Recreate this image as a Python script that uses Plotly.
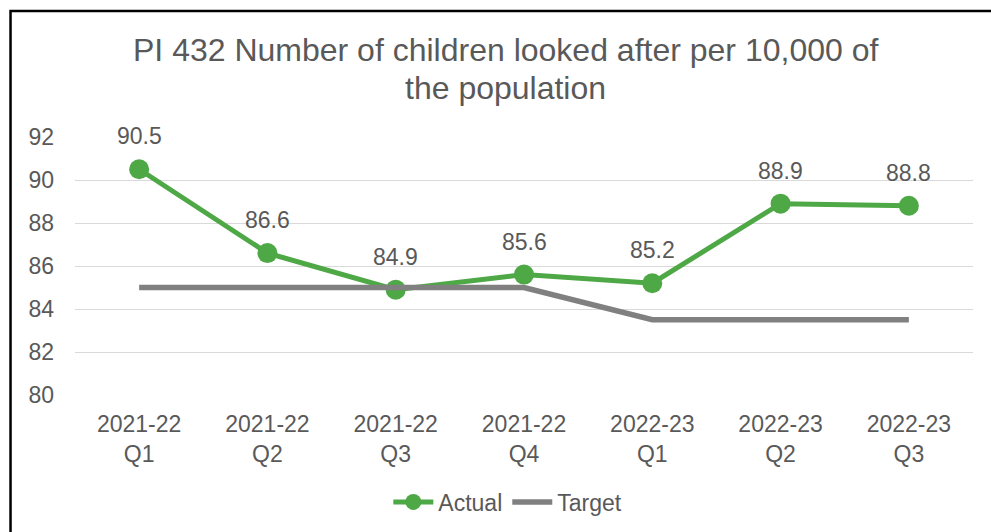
import plotly.graph_objects as go

categories = ["2021-22<br>Q1", "2021-22<br>Q2", "2021-22<br>Q3", "2021-22<br>Q4",
              "2022-23<br>Q1", "2022-23<br>Q2", "2022-23<br>Q3"]
actual = [90.5, 86.6, 84.9, 85.6, 85.2, 88.9, 88.8]
target = [85, 85, 85, 85, 83.5, 83.5, 83.5]
y_ticks = [80, 82, 84, 86, 88, 90, 92]
title_lines = ["PI 432 Number of children looked after per 10,000 of", "the population"]

GREEN = "#4EA846"
GREY = "#808080"
TEXT = "#595959"
FONT = "Liberation Sans, Arial, sans-serif"

fig = go.Figure()
fig.add_trace(go.Scatter(
    x=categories, y=actual, name="Actual", mode="lines+markers",
    line=dict(color=GREEN, width=5),
    marker=dict(color=GREEN, size=20),
    cliponaxis=False,
))
fig.add_trace(go.Scatter(
    x=categories, y=target, name="Target", mode="lines",
    line=dict(color=GREY, width=5.5),
    cliponaxis=False,
))

for c, v in zip(categories, actual):
    fig.add_annotation(x=c, y=v, text=f"{v:.1f}", showarrow=False,
                       yshift=33, yanchor="middle",
                       font=dict(size=23, color=TEXT, family=FONT))

for txt, ty in zip(title_lines, [1.337, 1.19]):
    fig.add_annotation(xref="paper", yref="paper", x=0.4794, y=ty, text=txt,
                       showarrow=False, xanchor="center", yanchor="middle",
                       font=dict(size=32, color=TEXT, family=FONT))

fig.add_shape(type="rect", xref="paper", yref="paper",
              x0=-0.0718, y0=-0.7, x1=1.2, y1=1.488,
              line=dict(color="black", width=2.5), fillcolor="rgba(0,0,0,0)")

fig.update_layout(
    width=991, height=532,
    margin=dict(l=75, r=18, t=137, b=137, autoexpand=False),
    paper_bgcolor="white", plot_bgcolor="white",
    font=dict(family=FONT, color=TEXT, size=23),
    showlegend=True,
    legend=dict(orientation="h", x=0.482, xanchor="center", y=-0.4147, yanchor="middle",
                font=dict(size=23, color=TEXT), itemwidth=40),
)
fig.update_xaxes(showgrid=False, showline=False, zeroline=False,
                 tickfont=dict(size=23, color=TEXT), ticklabelstandoff=13,
                 range=[-0.5, 6.5])
fig.update_yaxes(range=[80, 92], tickvals=y_ticks, showgrid=True,
                 gridcolor="#d9d9d9", gridwidth=1.3, zeroline=False, showline=False,
                 tickfont=dict(size=23, color=TEXT), ticklabelstandoff=20)

fig.write_html(
    "out.html",
    config={"displayModeBar": False},
    post_script="document.body.style.margin='0';document.body.style.overflow='hidden';",
)
